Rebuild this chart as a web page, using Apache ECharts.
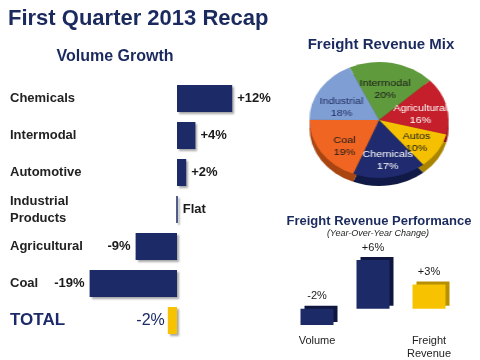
<!DOCTYPE html>
<html><head><meta charset="utf-8">
<script src="https://cdn.jsdelivr.net/npm/echarts@6/dist/echarts.min.js"></script>
<style>
html,body{margin:0;padding:0;background:#fff}
#wrap{position:relative;width:480px;height:360px;overflow:hidden}
#c{position:absolute;left:0;top:0;width:480px;height:360px}
#p{position:absolute;left:299px;top:55px;width:160px;height:140px;transform-origin:80px 65px;transform:scaleX(1.2)}
</style>
</head><body><div id="wrap"><div id="c"></div><div id="p"></div></div>
<script>
const volCategories = ['Chemicals', 'Intermodal', 'Automotive', 'Industrial\nProducts', 'Agricultural', 'Coal', 'TOTAL'];
const volValues = [12, 4, 2, 0, -9, -19, -2];
const mixNames = ['Intermodal', 'Agricultural', 'Autos', 'Chemicals', 'Coal', 'Industrial'];
const mixValues = [20, 16, 10, 17, 19, 18];
const perfCategories = ['Volume', 'ARC', 'Freight\nRevenue'];
const perfValues = [-2, 6, 3];

const NAVY = '#1d2a68';
const YELLOW = '#f7c300';
const FONT = 'Liberation Sans, Arial, sans-serif';
const mixColors = ['#5f9a3c', '#c41f2a', '#f5c000', '#1f2b6e', '#f06522', '#7f9fd4'];
const mixDark = ['#3f6d25', '#8b1219', '#a98400', '#111a46', '#a84510', '#5a76a8'];
const mixLabelColors = ['#1a1a1a', '#ffffff', '#1a1a1a', '#ffffff', '#1a1a1a', '#1f2a5e'];

function fmt(v) { return v > 0 ? '+' + v + '%' : (v === 0 ? 'Flat' : v + '%'); }

const chart = echarts.init(document.getElementById('c'), null, {renderer: 'canvas'});
chart.setOption({
  backgroundColor: '#ffffff',
  animation: false,
  textStyle: {fontFamily: FONT},
  graphic: [
    {type: 'text', x: 8, y: 19, style: {text: 'First Quarter 2013 Recap', font: 'bold 22px ' + FONT, fill: '#1b2a5e', textVerticalAlign: 'middle'}},
    {type: 'text', x: 115, y: 57, style: {text: 'Volume Growth', font: 'bold 16px ' + FONT, fill: '#1b2a5e', textAlign: 'center', textVerticalAlign: 'middle'}},
    {type: 'text', x: 381, y: 45, style: {text: 'Freight Revenue Mix', font: 'bold 15px ' + FONT, fill: '#1b2a5e', textAlign: 'center', textVerticalAlign: 'middle'}},
    {type: 'text', x: 379, y: 221, style: {text: 'Freight Revenue Performance', font: 'bold 13px ' + FONT, fill: '#1b2a5e', textAlign: 'center', textVerticalAlign: 'middle'}},
    {type: 'text', x: 378, y: 233, style: {text: '(Year-Over-Year Change)', font: 'italic 9px ' + FONT, fill: '#222', textAlign: 'center', textVerticalAlign: 'middle'}}
  ],
  grid: [
    {left: 85, top: 80, width: 184, height: 259},
    {left: 289, top: 252, width: 168, height: 76.5}
  ],
  xAxis: [
    {gridIndex: 0, type: 'value', min: -20, max: 20, show: false},
    {gridIndex: 1, type: 'category', data: perfCategories,
     axisLine: {show: false, onZero: false}, axisTick: {show: false},
     axisLabel: {margin: 9, fontSize: 11, color: '#222', lineHeight: 13, fontFamily: FONT}}
  ],
  yAxis: [
    {gridIndex: 0, type: 'category', inverse: true, data: volCategories,
     axisLine: {show: false}, axisTick: {show: false}, splitLine: {show: false},
     axisLabel: {align: 'left', margin: 75, fontSize: 13, fontWeight: 'bold', color: '#222', lineHeight: 17, fontFamily: FONT,
       formatter: function (v) { return v === 'TOTAL' ? '{t|TOTAL}' : v; },
       rich: {t: {fontSize: 17, fontWeight: 'bold', color: '#1b2a68', fontFamily: FONT}}}},
    {gridIndex: 1, type: 'value', min: -2, max: 7, show: false}
  ],
  series: [
    {type: 'bar', xAxisIndex: 0, yAxisIndex: 0, barWidth: 27,
     data: volValues.map(function (v, i) {
       const isTotal = volCategories[i] === 'TOTAL';
       return {
         value: v,
         itemStyle: {color: isTotal ? YELLOW : NAVY, borderColor: NAVY, borderWidth: v === 0 ? 1.5 : 0,
           shadowColor: 'rgba(0,0,0,0.35)', shadowOffsetX: 2, shadowOffsetY: 2, shadowBlur: 2},
         label: {show: true, position: v < 0 ? 'left' : 'right', distance: isTotal ? 3 : 5,
           formatter: fmt(v), fontFamily: FONT,
           fontSize: isTotal ? 16 : 13, fontWeight: isTotal ? 'normal' : 'bold',
           color: isTotal ? '#1b2a68' : '#1a1a1a'}
       };
     })},
    {type: 'bar', xAxisIndex: 1, yAxisIndex: 1, barWidth: 33,
     data: perfValues.map(function (v, i) {
       const isFR = i === 2;
       return {
         value: v,
         itemStyle: {color: isFR ? YELLOW : NAVY, shadowColor: isFR ? '#b88f00' : '#0f1740',
           shadowOffsetX: 4, shadowOffsetY: -3, shadowBlur: 0},
         label: {show: true, position: 'top', distance: 7, formatter: fmt(v), fontSize: 11, color: '#1a1a1a', fontFamily: FONT}
       };
     })}
  ]
});

const pie = echarts.init(document.getElementById('p'), null, {renderer: 'canvas'});
pie.setOption({
  animation: false,
  backgroundColor: 'transparent',
  textStyle: {fontFamily: FONT},
  series: [
    {type: 'pie', center: [80, 73], radius: 58, startAngle: 115, silent: true, z: 1,
     label: {show: false}, labelLine: {show: false},
     data: mixNames.map(function (n, i) { return {name: n, value: mixValues[i], itemStyle: {color: mixDark[i]}}; })},
    {type: 'pie', center: [80, 65], radius: 58, startAngle: 115, z: 2,
     label: {show: false}, labelLine: {show: false},
     data: mixNames.map(function (n, i) { return {name: n, value: mixValues[i], itemStyle: {color: mixColors[i]}}; })},
    {type: 'pie', center: [80, 70], radius: [4, 62], startAngle: 118, z: 3, silent: true,
     avoidLabelOverlap: false,
     labelLayout: {hideOverlap: false},
     itemStyle: {color: 'rgba(0,0,0,0)'},
     label: {show: true, position: 'inside', formatter: '{b}\n{c}%', fontSize: 9, lineHeight: 12, fontFamily: FONT, overflow: 'none'},
     labelLine: {show: false},
     data: mixNames.map(function (n, i) {
       return {name: n, value: mixValues[i], label: {color: mixLabelColors[i]}};
     })}
  ]
});
</script></body></html>
